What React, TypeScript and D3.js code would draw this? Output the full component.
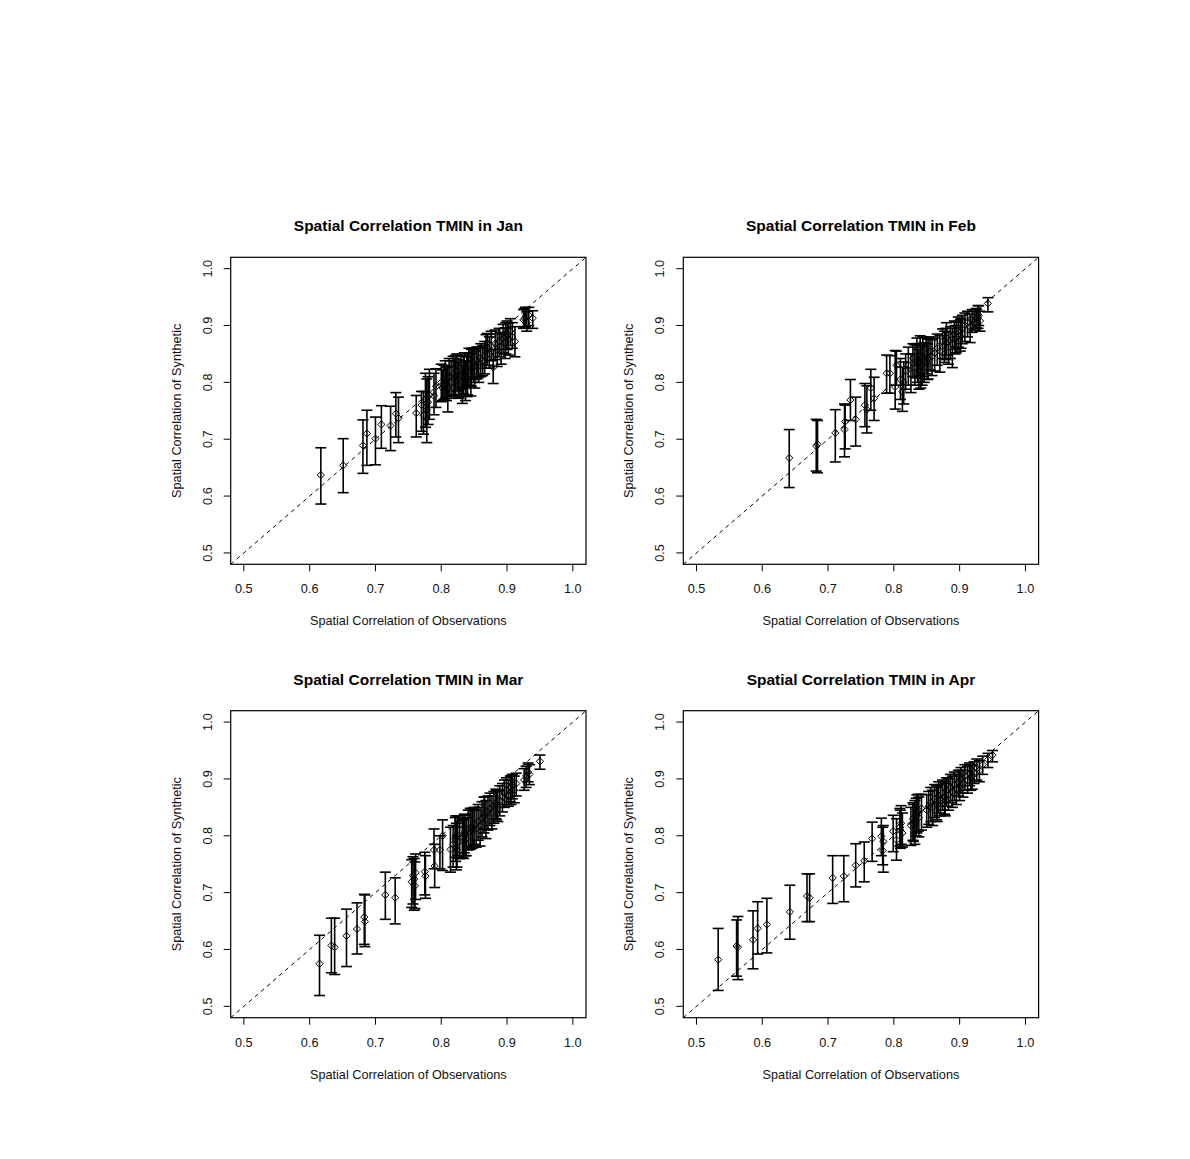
import React from "react";
import * as d3 from "d3";

// [obs, syn, lower, upper]
const janData: number[][] = [
  [0.617, 0.637, 0.586, 0.685], [0.651, 0.654, 0.606, 0.701], [0.681, 0.689, 0.640, 0.734],
  [0.687, 0.710, 0.654, 0.751], [0.700, 0.701, 0.655, 0.739], [0.709, 0.726, 0.684, 0.759],
  [0.723, 0.724, 0.680, 0.758], [0.731, 0.745, 0.704, 0.782], [0.735, 0.737, 0.694, 0.774],
  [0.762, 0.746, 0.704, 0.777], [0.770, 0.760, 0.714, 0.784], [0.773, 0.742, 0.709, 0.784],
  [0.776, 0.770, 0.721, 0.816], [0.778, 0.752, 0.694, 0.806], [0.780, 0.765, 0.726, 0.810],
  [0.782, 0.778, 0.735, 0.823], [0.789, 0.776, 0.743, 0.816], [0.792, 0.793, 0.756, 0.824],
  [0.800, 0.800, 0.766, 0.832], [0.802, 0.790, 0.768, 0.822], [0.806, 0.805, 0.772, 0.838],
  [0.810, 0.790, 0.748, 0.828], [0.812, 0.810, 0.776, 0.842], [0.815, 0.800, 0.772, 0.838],
  [0.818, 0.815, 0.778, 0.846], [0.820, 0.808, 0.776, 0.842], [0.824, 0.820, 0.785, 0.850],
  [0.827, 0.806, 0.772, 0.840], [0.830, 0.812, 0.776, 0.846], [0.832, 0.790, 0.763, 0.830],
  [0.835, 0.825, 0.790, 0.852], [0.837, 0.800, 0.768, 0.838], [0.840, 0.818, 0.778, 0.852],
  [0.842, 0.830, 0.795, 0.860], [0.845, 0.812, 0.776, 0.850], [0.848, 0.835, 0.805, 0.860],
  [0.851, 0.820, 0.790, 0.855], [0.854, 0.840, 0.806, 0.862], [0.857, 0.830, 0.800, 0.860],
  [0.860, 0.843, 0.810, 0.868], [0.863, 0.838, 0.812, 0.865], [0.866, 0.846, 0.815, 0.872],
  [0.870, 0.860, 0.830, 0.886], [0.873, 0.850, 0.825, 0.880], [0.876, 0.865, 0.838, 0.890],
  [0.879, 0.826, 0.798, 0.858], [0.882, 0.868, 0.840, 0.892], [0.885, 0.858, 0.828, 0.885],
  [0.888, 0.872, 0.845, 0.895], [0.891, 0.862, 0.832, 0.888], [0.894, 0.878, 0.852, 0.902],
  [0.897, 0.870, 0.842, 0.896], [0.900, 0.885, 0.858, 0.908], [0.902, 0.876, 0.848, 0.905],
  [0.905, 0.890, 0.865, 0.912], [0.908, 0.880, 0.860, 0.905], [0.912, 0.872, 0.845, 0.898],
  [0.925, 0.910, 0.895, 0.928], [0.928, 0.915, 0.898, 0.932], [0.930, 0.905, 0.890, 0.925],
  [0.933, 0.918, 0.900, 0.932], [0.939, 0.913, 0.895, 0.926],
  [0.804, 0.798, 0.770, 0.830], [0.808, 0.785, 0.768, 0.826], [0.822, 0.812, 0.778, 0.848],
  [0.826, 0.795, 0.773, 0.835], [0.834, 0.815, 0.780, 0.848], [0.839, 0.808, 0.775, 0.845],
  [0.846, 0.826, 0.793, 0.858], [0.850, 0.828, 0.800, 0.860], [0.856, 0.835, 0.808, 0.862],
  [0.868, 0.855, 0.825, 0.884], [0.898, 0.880, 0.850, 0.905], [0.927, 0.912, 0.897, 0.930],
];

const febData: number[][] = [
  [0.641, 0.667, 0.615, 0.717], [0.682, 0.688, 0.644, 0.735], [0.684, 0.691, 0.641, 0.733],
  [0.711, 0.711, 0.660, 0.752], [0.725, 0.717, 0.669, 0.762], [0.726, 0.731, 0.683, 0.760],
  [0.734, 0.769, 0.733, 0.805], [0.742, 0.735, 0.688, 0.774], [0.756, 0.760, 0.722, 0.798],
  [0.759, 0.752, 0.711, 0.794], [0.765, 0.790, 0.751, 0.823], [0.770, 0.772, 0.733, 0.809],
  [0.789, 0.816, 0.781, 0.848], [0.794, 0.816, 0.781, 0.847], [0.802, 0.792, 0.753, 0.856],
  [0.804, 0.830, 0.795, 0.855], [0.810, 0.805, 0.770, 0.842], [0.813, 0.784, 0.749, 0.827],
  [0.815, 0.800, 0.762, 0.836], [0.818, 0.820, 0.788, 0.850], [0.822, 0.830, 0.795, 0.862],
  [0.826, 0.815, 0.782, 0.850], [0.829, 0.842, 0.810, 0.868], [0.832, 0.825, 0.795, 0.866],
  [0.835, 0.840, 0.808, 0.878], [0.838, 0.822, 0.788, 0.858], [0.840, 0.846, 0.812, 0.882],
  [0.843, 0.830, 0.795, 0.865], [0.846, 0.838, 0.800, 0.870], [0.849, 0.850, 0.815, 0.878],
  [0.852, 0.842, 0.806, 0.876], [0.855, 0.855, 0.822, 0.880], [0.858, 0.846, 0.812, 0.875],
  [0.862, 0.852, 0.820, 0.878], [0.866, 0.860, 0.830, 0.885], [0.870, 0.855, 0.818, 0.882],
  [0.874, 0.872, 0.842, 0.894], [0.877, 0.865, 0.835, 0.890], [0.880, 0.878, 0.848, 0.905],
  [0.883, 0.862, 0.832, 0.888], [0.886, 0.875, 0.842, 0.898], [0.889, 0.868, 0.826, 0.895],
  [0.892, 0.885, 0.858, 0.908], [0.895, 0.880, 0.852, 0.906], [0.898, 0.890, 0.862, 0.915],
  [0.901, 0.882, 0.855, 0.910], [0.904, 0.895, 0.868, 0.918], [0.908, 0.900, 0.872, 0.922],
  [0.912, 0.905, 0.880, 0.925], [0.916, 0.898, 0.870, 0.920], [0.919, 0.910, 0.888, 0.928],
  [0.922, 0.905, 0.892, 0.925], [0.925, 0.912, 0.895, 0.930], [0.928, 0.915, 0.895, 0.935],
  [0.931, 0.908, 0.890, 0.925], [0.943, 0.939, 0.924, 0.949],
  [0.836, 0.835, 0.800, 0.868], [0.841, 0.828, 0.790, 0.862], [0.844, 0.845, 0.810, 0.880],
  [0.851, 0.835, 0.805, 0.868], [0.879, 0.870, 0.840, 0.895], [0.893, 0.875, 0.850, 0.900],
  [0.902, 0.890, 0.860, 0.912], [0.926, 0.905, 0.895, 0.928], [0.929, 0.918, 0.900, 0.935],
];

const marData: number[][] = [
  [0.615, 0.575, 0.519, 0.625], [0.633, 0.607, 0.559, 0.655], [0.638, 0.604, 0.556, 0.655],
  [0.656, 0.624, 0.570, 0.671], [0.672, 0.636, 0.592, 0.682], [0.683, 0.657, 0.609, 0.697],
  [0.684, 0.649, 0.605, 0.696], [0.715, 0.696, 0.653, 0.736], [0.730, 0.691, 0.645, 0.726],
  [0.755, 0.719, 0.674, 0.758], [0.757, 0.730, 0.680, 0.763], [0.759, 0.724, 0.669, 0.760],
  [0.760, 0.712, 0.672, 0.754], [0.761, 0.735, 0.688, 0.768], [0.775, 0.737, 0.696, 0.771],
  [0.776, 0.729, 0.690, 0.765], [0.789, 0.775, 0.742, 0.812], [0.790, 0.747, 0.709, 0.785],
  [0.798, 0.775, 0.742, 0.800], [0.802, 0.800, 0.739, 0.828], [0.814, 0.776, 0.736, 0.815],
  [0.818, 0.785, 0.745, 0.818], [0.821, 0.795, 0.762, 0.832], [0.823, 0.780, 0.740, 0.822],
  [0.825, 0.800, 0.765, 0.835], [0.828, 0.790, 0.760, 0.826], [0.832, 0.798, 0.762, 0.830],
  [0.835, 0.805, 0.770, 0.838], [0.838, 0.795, 0.765, 0.832], [0.841, 0.812, 0.775, 0.845],
  [0.844, 0.808, 0.776, 0.848], [0.847, 0.815, 0.778, 0.848], [0.850, 0.820, 0.785, 0.850],
  [0.853, 0.812, 0.780, 0.845], [0.856, 0.825, 0.792, 0.855], [0.859, 0.818, 0.782, 0.850],
  [0.862, 0.830, 0.798, 0.860], [0.865, 0.835, 0.805, 0.868], [0.868, 0.828, 0.795, 0.862],
  [0.871, 0.842, 0.810, 0.870], [0.874, 0.848, 0.818, 0.875], [0.877, 0.840, 0.812, 0.870],
  [0.880, 0.852, 0.822, 0.878], [0.883, 0.858, 0.830, 0.882], [0.886, 0.850, 0.825, 0.878],
  [0.889, 0.862, 0.835, 0.888], [0.893, 0.868, 0.842, 0.892], [0.896, 0.875, 0.850, 0.898],
  [0.899, 0.880, 0.855, 0.902], [0.902, 0.872, 0.852, 0.898], [0.905, 0.885, 0.860, 0.905],
  [0.908, 0.890, 0.865, 0.908], [0.911, 0.880, 0.858, 0.905], [0.914, 0.892, 0.870, 0.910],
  [0.926, 0.898, 0.880, 0.918], [0.929, 0.905, 0.885, 0.922], [0.932, 0.912, 0.895, 0.928],
  [0.934, 0.908, 0.890, 0.925], [0.950, 0.931, 0.917, 0.942],
  [0.822, 0.800, 0.755, 0.835], [0.824, 0.775, 0.745, 0.815], [0.834, 0.790, 0.760, 0.828],
  [0.836, 0.800, 0.765, 0.836], [0.845, 0.815, 0.780, 0.848], [0.848, 0.810, 0.782, 0.846],
  [0.866, 0.840, 0.812, 0.868], [0.884, 0.855, 0.828, 0.880], [0.906, 0.878, 0.855, 0.905],
];

const aprData: number[][] = [
  [0.533, 0.582, 0.528, 0.637], [0.561, 0.606, 0.553, 0.652], [0.563, 0.604, 0.547, 0.658],
  [0.586, 0.617, 0.566, 0.668], [0.593, 0.637, 0.592, 0.684], [0.607, 0.644, 0.594, 0.690],
  [0.642, 0.666, 0.618, 0.713], [0.668, 0.694, 0.649, 0.733], [0.672, 0.691, 0.649, 0.733],
  [0.707, 0.726, 0.681, 0.765], [0.724, 0.729, 0.684, 0.765], [0.742, 0.748, 0.710, 0.786],
  [0.755, 0.756, 0.719, 0.789], [0.767, 0.795, 0.755, 0.824], [0.781, 0.799, 0.765, 0.831],
  [0.783, 0.774, 0.749, 0.815], [0.784, 0.790, 0.736, 0.818], [0.799, 0.808, 0.772, 0.836],
  [0.804, 0.793, 0.757, 0.830], [0.809, 0.815, 0.782, 0.848], [0.811, 0.822, 0.785, 0.853],
  [0.813, 0.805, 0.780, 0.840], [0.826, 0.818, 0.783, 0.850], [0.829, 0.830, 0.792, 0.858],
  [0.832, 0.825, 0.785, 0.862], [0.835, 0.840, 0.805, 0.872], [0.838, 0.832, 0.798, 0.868],
  [0.842, 0.848, 0.810, 0.873], [0.850, 0.845, 0.815, 0.872], [0.853, 0.852, 0.820, 0.878],
  [0.856, 0.858, 0.825, 0.885], [0.859, 0.850, 0.818, 0.880], [0.862, 0.865, 0.832, 0.890],
  [0.865, 0.860, 0.828, 0.888], [0.868, 0.870, 0.840, 0.895], [0.871, 0.862, 0.835, 0.890],
  [0.874, 0.875, 0.845, 0.898], [0.877, 0.868, 0.838, 0.895], [0.880, 0.880, 0.852, 0.902],
  [0.883, 0.872, 0.845, 0.900], [0.886, 0.885, 0.858, 0.908], [0.889, 0.878, 0.850, 0.905],
  [0.892, 0.890, 0.862, 0.912], [0.895, 0.882, 0.855, 0.908], [0.898, 0.895, 0.870, 0.915],
  [0.902, 0.900, 0.875, 0.920], [0.905, 0.892, 0.868, 0.915], [0.908, 0.905, 0.880, 0.925],
  [0.912, 0.898, 0.875, 0.922], [0.915, 0.910, 0.888, 0.928], [0.919, 0.905, 0.882, 0.925],
  [0.922, 0.912, 0.892, 0.930], [0.926, 0.918, 0.898, 0.935], [0.930, 0.915, 0.895, 0.932],
  [0.935, 0.925, 0.908, 0.940], [0.943, 0.934, 0.920, 0.945], [0.950, 0.942, 0.930, 0.950],
  [0.810, 0.810, 0.778, 0.845], [0.830, 0.820, 0.790, 0.855], [0.834, 0.835, 0.800, 0.866],
  [0.837, 0.845, 0.808, 0.873], [0.866, 0.855, 0.825, 0.885], [0.878, 0.862, 0.835, 0.892],
  [0.900, 0.888, 0.862, 0.915], [0.917, 0.902, 0.880, 0.925],
];

const months = ["Jan", "Feb", "Mar", "Apr"];
const ticks = [0.5, 0.6, 0.7, 0.8, 0.9, 1.0];
const tickLabels = ["0.5", "0.6", "0.7", "0.8", "0.9", "1.0"];
const xTitle = "Spatial Correlation of Observations";
const yTitle = "Spatial Correlation of Synthetic";
const allData = [janData, febData, marData, aprData];

const FONT = "'Liberation Sans', Arial, Helvetica, sans-serif";

function Panel({ data, month, left, top }: { data: number[][]; month: string; left: number; top: number }) {
  const w = 355.3;
  const h = 307;
  const x = d3.scaleLinear().domain([0.48, 1.02]).range([left, left + w]);
  const y = d3.scaleLinear().domain([0.48, 1.02]).range([top + h, top]);
  const cx = left + w / 2;
  const cy = top + h / 2;
  const clipId = `clip-${month}`;
  const diag = d3.line<number>().x((d) => x(d)).y((d) => y(d));
  return (
    <g>
      <defs>
        <clipPath id={clipId}>
          <rect x={left} y={top} width={w} height={h} />
        </clipPath>
      </defs>
      <text x={cx} y={top - 26} textAnchor="middle" fontFamily={FONT} fontWeight="bold" fontSize={15.5} fill="#000">
        {`Spatial Correlation TMIN in ${month}`}
      </text>
      <path d={diag([0.48, 1.02]) || ""} stroke="#000" strokeWidth={1} strokeDasharray="4,4" fill="none" clipPath={`url(#${clipId})`} />
      {data.map((d, i) => {
        const px = x(d[0]);
        return (
          <g key={i} stroke="#000" strokeWidth={1.6} fill="none">
            <line x1={px} x2={px} y1={y(d[2])} y2={y(d[3])} />
            <line x1={px - 5.5} x2={px + 5.5} y1={y(d[2])} y2={y(d[2])} />
            <line x1={px - 5.5} x2={px + 5.5} y1={y(d[3])} y2={y(d[3])} />
          </g>
        );
      })}
      {data.map((d, i) => {
        const px = x(d[0]);
        const py = y(d[1]);
        const s = 3.6;
        return (
          <path key={`p${i}`} d={`M${px},${py - s}L${px + s},${py}L${px},${py + s}L${px - s},${py}Z`} stroke="#000" strokeWidth={1} fill="none" />
        );
      })}
      <rect x={left} y={top} width={w} height={h} fill="none" stroke="#000" strokeWidth={1.2} />
      {ticks.map((t, i) => (
        <g key={`xt${i}`}>
          <line x1={x(t)} x2={x(t)} y1={top + h} y2={top + h + 7} stroke="#000" strokeWidth={1} />
          <text x={x(t)} y={top + h + 29} textAnchor="middle" fontFamily={FONT} fontSize={12.7} fill="#111">
            {tickLabels[i]}
          </text>
        </g>
      ))}
      {ticks.map((t, i) => (
        <g key={`yt${i}`}>
          <line x1={left} x2={left - 7} y1={y(t)} y2={y(t)} stroke="#000" strokeWidth={1} />
          <text
            transform={`translate(${left - 19},${y(t)}) rotate(-90)`}
            textAnchor="middle"
            fontFamily={FONT}
            fontSize={12.7}
            fill="#111"
          >
            {tickLabels[i]}
          </text>
        </g>
      ))}
      <text x={cx} y={top + h + 61} textAnchor="middle" fontFamily={FONT} fontSize={12.7} fill="#111">
        {xTitle}
      </text>
      <text transform={`translate(${left - 50},${cy}) rotate(-90)`} textAnchor="middle" fontFamily={FONT} fontSize={12.7} fill="#111">
        {yTitle}
      </text>
    </g>
  );
}

export default function App() {
  const lefts = [230.7, 683.3];
  const tops = [257.3, 710.7];
  return (
    <svg width={1190} height={1159} style={{ position: "absolute", left: 0, top: 0, background: "#fff" }}>
      <rect x={0} y={0} width={1190} height={1159} fill="#fff" />
      {allData.map((d, i) => (
        <Panel key={months[i]} data={d} month={months[i]} left={lefts[i % 2]} top={tops[Math.floor(i / 2)]} />
      ))}
    </svg>
  );
}
